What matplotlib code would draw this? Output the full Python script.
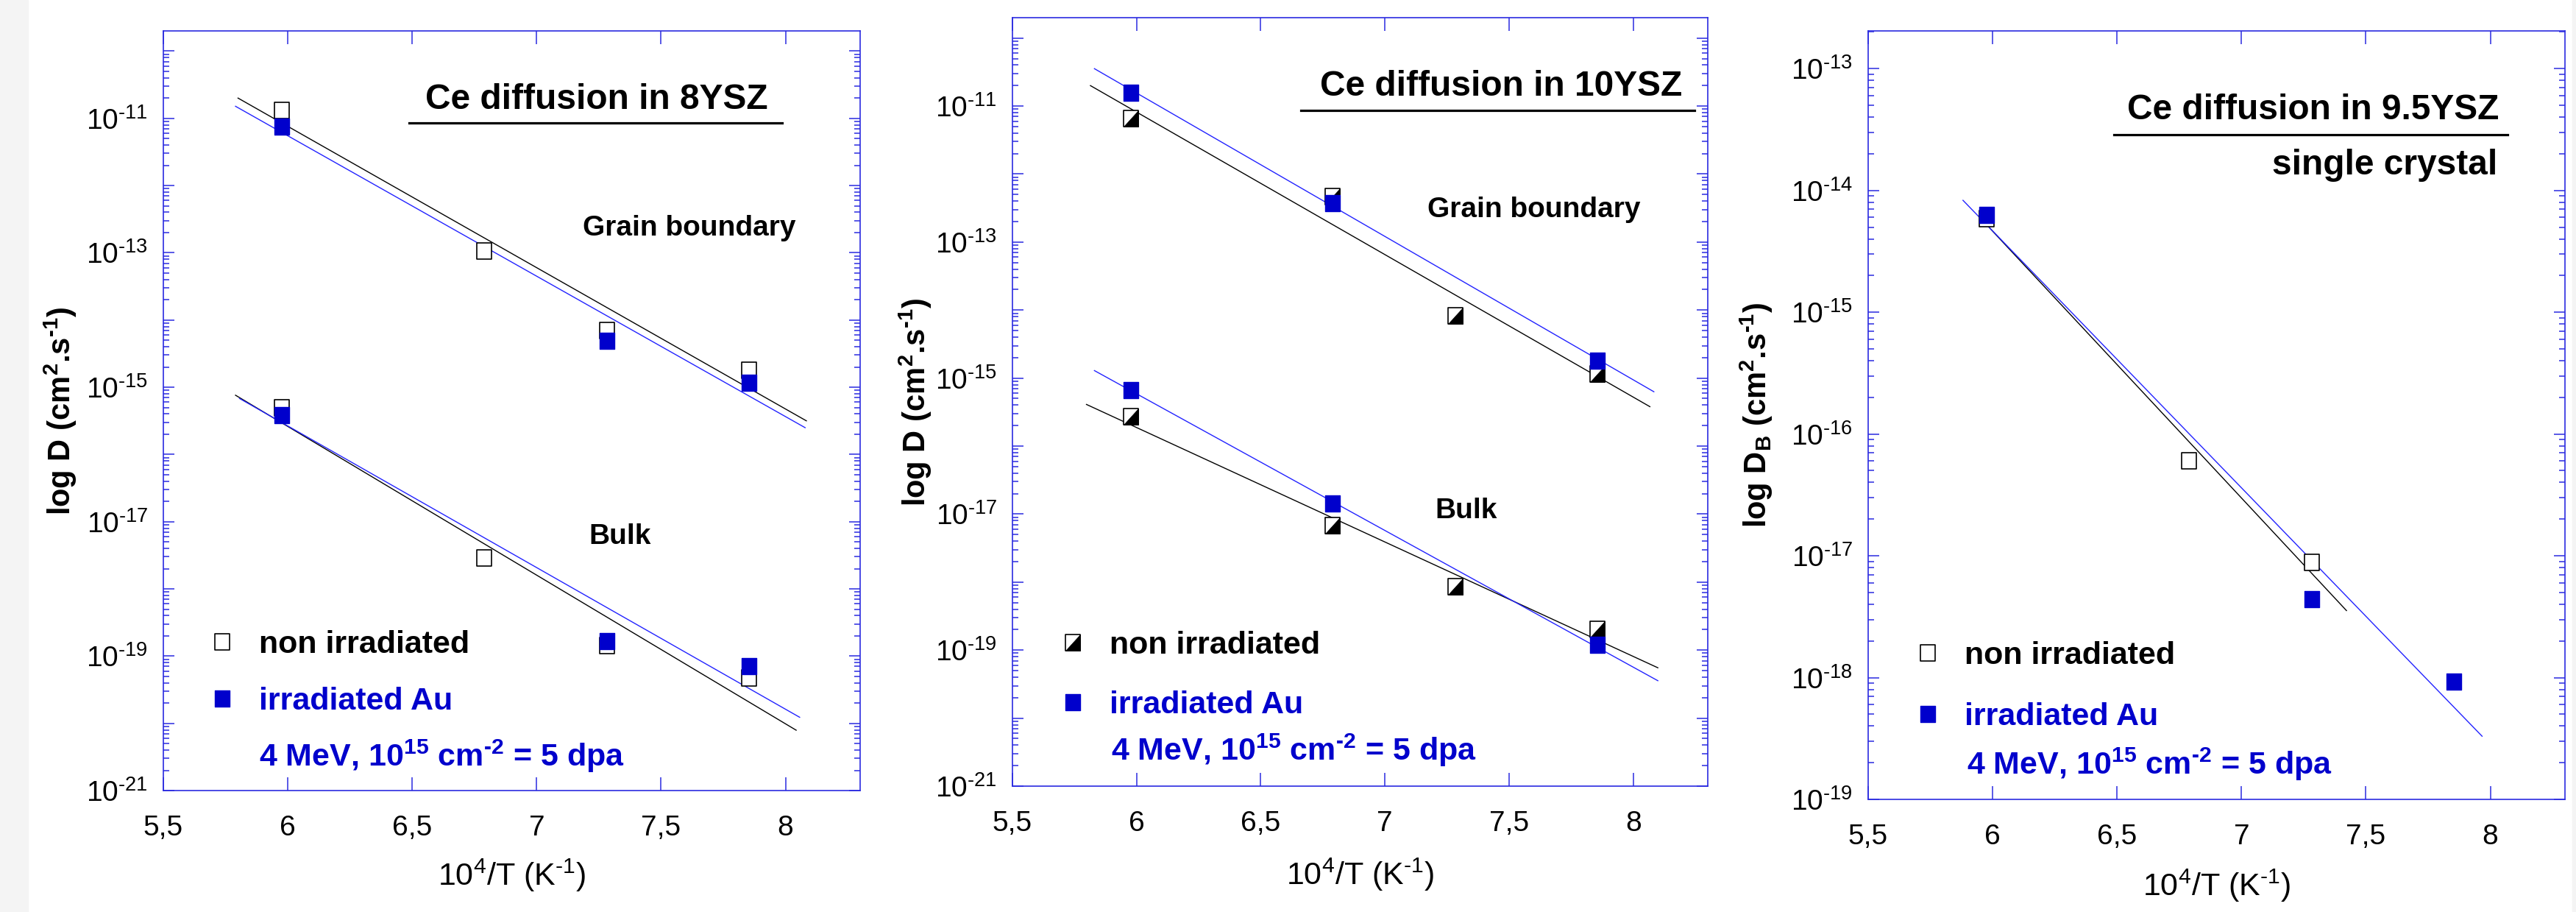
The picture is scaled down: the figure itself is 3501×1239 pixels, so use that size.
import numpy as np
import matplotlib
matplotlib.use('Agg')
import matplotlib.pyplot as plt
from matplotlib.ticker import FuncFormatter, FixedLocator, NullFormatter, NullLocator
from matplotlib.lines import Line2D
from matplotlib.path import Path
from matplotlib.patches import Rectangle
from matplotlib.legend_handler import HandlerTuple

plt.rcParams['font.family'] = ['Liberation Sans', 'DejaVu Sans']
plt.rcParams['mathtext.fontset'] = 'custom'
plt.rcParams['mathtext.rm'] = 'Liberation Sans'
plt.rcParams['mathtext.bf'] = 'Liberation Sans:bold'
plt.rcParams['mathtext.default'] = 'regular'

# ---------------- data ----------------
x_all = [5.977, 6.789, 7.283, 7.855]          # 10^4/T
x_irr3 = [5.977, 7.283, 7.855]
x_irr2 = [5.977, 6.789, 7.855]

# 8YSZ
p1_gb_non = [1.3e-11, 1.07e-13, 6.9e-15, 1.8e-15]
p1_gb_irr = [7.6e-12, 4.9e-15, 1.17e-15]
p1_bulk_non = [4.9e-16, 2.9e-18, 1.45e-19, 4.7e-20]
p1_bulk_irr = [3.8e-16, 1.66e-19, 7.1e-20]
p1_fit_gb_non_x, p1_fit_gb_non_D = [5.80, 8.084], [2.0e-11, 3.16e-16]
p1_fit_gb_irr_x, p1_fit_gb_irr_D = [5.79, 8.079], [1.51e-11, 2.5e-16]
p1_fit_bulk_non_x, p1_fit_bulk_non_D = [5.79, 8.043], [7.6e-16, 7.9e-21]
p1_fit_bulk_irr_x, p1_fit_bulk_irr_D = [5.806, 8.057], [6.8e-16, 1.23e-20]

# 10YSZ
p2_gb_non = [6.5e-12, 4.7e-13, 8.2e-15, 1.15e-15]
p2_gb_irr = [1.58e-11, 3.7e-13, 1.8e-15]
p2_bulk_non = [2.7e-16, 6.8e-18, 8.5e-19, 2.0e-19]
p2_bulk_irr = [6.7e-16, 1.45e-17, 1.2e-19]
p2_fit_gb_non_x, p2_fit_gb_non_D = [5.814, 8.067], [2.0e-11, 3.8e-16]
p2_fit_gb_irr_x, p2_fit_gb_irr_D = [5.83, 8.083], [3.55e-11, 6.3e-16]
p2_fit_bulk_non_x, p2_fit_bulk_non_D = [5.798, 8.099], [4.1e-16, 5.5e-20]
p2_fit_bulk_irr_x, p2_fit_bulk_irr_D = [5.83, 8.099], [1.29e-15, 3.55e-20]

# 9.5YSZ single crystal
p3_x_non = [5.977, 6.789, 7.283]
p3_non = [5.9e-15, 6.0e-17, 8.8e-18]
p3_x_irr = [5.977, 7.283, 7.855]
p3_irr = [6.3e-15, 4.4e-18, 9.3e-19]
p3_fit_non_x, p3_fit_non_D = [5.985, 7.422], [5.0e-15, 3.55e-18]
p3_fit_irr_x, p3_fit_irr_D = [5.881, 7.967], [8.3e-15, 3.3e-19]

titles = ['Ce diffusion in 8YSZ', 'Ce diffusion in 10YSZ', 'Ce diffusion in 9.5YSZ']
xticks = [5.5, 6, 6.5, 7, 7.5, 8]
decades_12 = list(range(-21, -9))     # panels 1 & 2: 1e-21 ... 1e-10
decades_3 = list(range(-19, -12))     # panel 3: 1e-19 ... 1e-13

# ---------------- style ----------------
BLUE = '#0000CC'
LBLUE = '#2222FF'
AXC = '#2B2BE0'
HY = '\u2010'   # short hyphen used for the negative exponents

rect = Path([(-0.9, -1), (0.9, -1), (0.9, 1), (-0.9, 1), (-0.9, -1)],
            [Path.MOVETO, Path.LINETO, Path.LINETO, Path.LINETO, Path.CLOSEPOLY])
tri = Path([(-0.9, -1), (0.9, -1), (0.9, 1), (-0.9, -1)],
           [Path.MOVETO, Path.LINETO, Path.LINETO, Path.CLOSEPOLY])
MS = 16

fig = plt.figure(figsize=(35.01, 12.39), dpi=100)
fig.patches.append(Rectangle((0, 0), 38 / 3501, 1, transform=fig.transFigure,
                             color='#f4f4f4', zorder=0))
fig.patches.append(Rectangle((3496 / 3501, 0), 5 / 3501, 1, transform=fig.transFigure,
                             color='#f4f4f4', zorder=0))

ax1 = fig.add_axes([222 / 3501, 1 - 1074 / 1239, 947 / 3501, 1032 / 1239])
ax2 = fig.add_axes([1376 / 3501, 1 - 1068 / 1239, 945 / 3501, 1044 / 1239])
ax3 = fig.add_axes([2539 / 3501, 1 - 1086 / 1239, 947 / 3501, 1044 / 1239])


def exp_label(e):
    s = str(e).replace('-', HY)
    return '$10^{%s}$' % s


def odd_fmt(v, pos):
    e = int(round(np.log10(v)))
    return exp_label(e) if e % 2 else ''


def all_fmt(v, pos):
    return exp_label(int(round(np.log10(v))))


def style(ax, ylim, decs, fmt):
    ax.set_yscale('log')
    ax.set_xlim(5.5, 8.3)
    ax.set_ylim(*ylim)
    for s in ax.spines.values():
        s.set_color(AXC)
        s.set_linewidth(1.2)
    ax.xaxis.set_major_locator(FixedLocator(xticks))
    ax.xaxis.set_major_formatter(FuncFormatter(lambda v, p: ('%g' % v).replace('.', ',')))
    ax.xaxis.set_minor_locator(NullLocator())
    majors = [10.0 ** e for e in decs]
    minors = [m * 10.0 ** e for e in decs for m in range(2, 10)
              if ylim[0] < m * 10.0 ** e < ylim[1]]
    ax.yaxis.set_major_locator(FixedLocator(majors))
    ax.yaxis.set_minor_locator(FixedLocator(minors))
    ax.yaxis.set_major_formatter(FuncFormatter(fmt))
    ax.yaxis.set_minor_formatter(NullFormatter())
    ax.tick_params(axis='both', which='both', direction='in', top=True, right=True,
                   color=AXC, width=1.1, labelsize=28, labelcolor='black')
    ax.tick_params(axis='x', which='major', length=13, pad=24)
    ax.tick_params(axis='y', which='major', length=11, pad=15)
    ax.tick_params(axis='y', which='minor', length=6)


def open_sq(ax, x, y):
    return ax.plot(x, y, ls='none', marker=rect, ms=MS, mfc='white', mec='black',
                   mew=1.2, zorder=4)[0]


def blue_sq(ax, x, y):
    return ax.plot(x, y, ls='none', marker=rect, ms=MS, mfc=BLUE, mec=BLUE,
                   mew=1.0, zorder=5)[0]


def half_sq(ax, x, y):
    a = ax.plot(x, y, ls='none', marker=rect, ms=MS, mfc='white', mec='black',
                mew=1.2, zorder=4)[0]
    b = ax.plot(x, y, ls='none', marker=tri, ms=MS, mfc='black', mec='black',
                mew=0.6, zorder=4.1)[0]
    return (a, b)


def fit(ax, x, y, c):
    ax.plot(x, y, color=c, lw=1.0, zorder=2)


def underline(ax, x0, x1, y):
    ax.add_artist(Line2D([x0, x1], [y, y], transform=ax.transAxes, color='black',
                         lw=2.3, clip_on=False))


def legend(ax, h_non, h_irr, lx, ly, ls):
    ax.legend([h_non, h_irr], ['non irradiated', 'irradiated Au'], loc='upper left',
              bbox_to_anchor=(lx, ly), bbox_transform=ax.transAxes, frameon=False,
              borderpad=0, borderaxespad=0, handlelength=1.0, handletextpad=0.66,
              labelspacing=ls, prop={'weight': 'bold', 'size': 31},
              labelcolor=['black', BLUE], handler_map={tuple: HandlerTuple(ndivide=1)})


dose = '4 MeV, 10$^{15}$ cm$^{%s2}$ = 5 dpa' % HY
xlab = '10$^{4}$/T (K$^{%s1}$)' % HY
ylab = 'log D (cm$^{2}$.s$^{%s1}$)' % HY
ylab3 = 'log D$_{B}$ (cm$^{2}$.s$^{%s1}$)' % HY

# ---------- panel 1 ----------
style(ax1, (1e-21, 10 ** -9.7), decades_12, odd_fmt)
fit(ax1, p1_fit_gb_non_x, p1_fit_gb_non_D, 'black')
fit(ax1, p1_fit_gb_irr_x, p1_fit_gb_irr_D, LBLUE)
fit(ax1, p1_fit_bulk_non_x, p1_fit_bulk_non_D, 'black')
fit(ax1, p1_fit_bulk_irr_x, p1_fit_bulk_irr_D, LBLUE)
h1n = open_sq(ax1, x_all, p1_gb_non)
open_sq(ax1, x_all, p1_bulk_non)
h1i = blue_sq(ax1, x_irr3, p1_gb_irr)
blue_sq(ax1, x_irr3, p1_bulk_irr)
ax1.text(0.622, 0.897, titles[0], transform=ax1.transAxes, ha='center', va='baseline',
         fontsize=34.5, fontweight='bold')
underline(ax1, 0.353, 0.888, 0.879)
ax1.text(0.755, 0.7303, 'Grain boundary', transform=ax1.transAxes, ha='center',
         va='baseline', fontsize=28, fontweight='bold')
ax1.text(0.655, 0.325, 'Bulk', transform=ax1.transAxes, ha='center', va='baseline',
         fontsize=28, fontweight='bold')
legend(ax1, h1n, h1i, 0.0618, 0.2112, 0.86)
ax1.text(0.1373, 0.032, dose, transform=ax1.transAxes, ha='left', va='baseline',
         fontsize=31, fontweight='bold', color=BLUE)
ax1.set_ylabel(ylab, fontsize=30, fontweight='bold', va='center')
ax1.yaxis.set_label_coords(-0.148, 0.5)
ax1.set_xlabel(xlab, fontsize=31, va='top')
ax1.xaxis.set_label_coords(0.5, -0.088)

# ---------- panel 2 ----------
style(ax2, (1e-21, 10 ** -9.7), decades_12, odd_fmt)
fit(ax2, p2_fit_gb_non_x, p2_fit_gb_non_D, 'black')
fit(ax2, p2_fit_gb_irr_x, p2_fit_gb_irr_D, LBLUE)
fit(ax2, p2_fit_bulk_non_x, p2_fit_bulk_non_D, 'black')
fit(ax2, p2_fit_bulk_irr_x, p2_fit_bulk_irr_D, LBLUE)
h2n = half_sq(ax2, x_all, p2_gb_non)
half_sq(ax2, x_all, p2_bulk_non)
h2i = blue_sq(ax2, x_irr2, p2_gb_irr)
blue_sq(ax2, x_irr2, p2_bulk_irr)
ax2.text(0.7026, 0.8988, titles[1], transform=ax2.transAxes, ha='center', va='baseline',
         fontsize=34.5, fontweight='bold')
underline(ax2, 0.4148, 0.981, 0.8793)
ax2.text(0.750, 0.7408, 'Grain boundary', transform=ax2.transAxes, ha='center',
         va='baseline', fontsize=28, fontweight='bold')
ax2.text(0.652, 0.3485, 'Bulk', transform=ax2.transAxes, ha='center', va='baseline',
         fontsize=28, fontweight='bold')
legend(ax2, h2n, h2i, 0.0640, 0.2024, 0.95)
ax2.text(0.1418, 0.0333, dose, transform=ax2.transAxes, ha='left', va='baseline',
         fontsize=31, fontweight='bold', color=BLUE)
ax2.set_ylabel(ylab, fontsize=30, fontweight='bold', va='center')
ax2.yaxis.set_label_coords(-0.1397, 0.5)
ax2.set_xlabel(xlab, fontsize=31, va='top')
ax2.xaxis.set_label_coords(0.5, -0.092)

# ---------- panel 3 ----------
style(ax3, (1e-19, 10 ** -12.69), decades_3, all_fmt)
fit(ax3, p3_fit_non_x, p3_fit_non_D, 'black')
fit(ax3, p3_fit_irr_x, p3_fit_irr_D, LBLUE)
h3n = open_sq(ax3, p3_x_non, p3_non)
h3i = blue_sq(ax3, p3_x_irr, p3_irr)
ax3.text(0.905, 0.885, titles[2], transform=ax3.transAxes, ha='right', va='baseline',
         fontsize=34.5, fontweight='bold')
underline(ax3, 0.3523, 0.9174, 0.8652)
ax3.text(0.903, 0.813, 'single crystal', transform=ax3.transAxes, ha='right',
         va='baseline', fontsize=34.5, fontweight='bold')
legend(ax3, h3n, h3i, 0.0628, 0.2057, 1.0)
ax3.text(0.1415, 0.0323, dose, transform=ax3.transAxes, ha='left', va='baseline',
         fontsize=31, fontweight='bold', color=BLUE)
ax3.set_ylabel(ylab3, fontsize=30, fontweight='bold', va='center')
ax3.yaxis.set_label_coords(-0.1605, 0.5)
ax3.set_xlabel(xlab, fontsize=31, va='top')
ax3.xaxis.set_label_coords(0.5, -0.089)

fig.savefig('out.png', dpi=100)
